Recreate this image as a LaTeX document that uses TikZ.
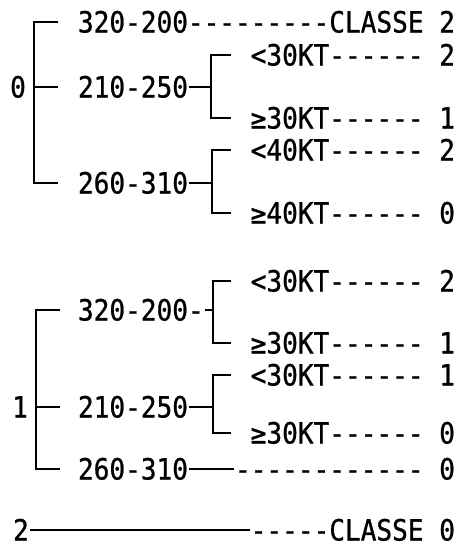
\documentclass[tikz,border=0pt]{standalone}
\usepackage{graphicx}
\usepackage{fontspec}
\newfontfamily\twfont[Ligatures=TeXOff,FakeBold=0.9]{DejaVu Sans Mono}
\newcommand\stx[1]{\scalebox{1}[1.12]{#1}}
\begin{document}
\begin{tikzpicture}[x=1pt,y=-1pt,line width=2pt,
  lbl/.style={inner sep=0pt,text height=21pt,text depth=0pt,
    font=\twfont\fontsize{26.1}{30}\selectfont},
  lft/.style={lbl,anchor=west},
  rgt/.style={lbl,anchor=east}]
\fill[white] (0,0) rectangle (466,549);
\useasboundingbox (0,0) rectangle (466,549);
% ---------- block 0 ----------
\node[lbl] (k0) at (18,87) {\stx{0}};
\node[lft] (a1) at (77,22) {\stx{320-200}};
\node[lft] (a2) at (77,87) {\stx{210-250}};
\node[lft] (a3) at (77,183) {\stx{260-310}};
\node[rgt] (l1) at (456,22) {\stx{---------CLASSE 2}};
\node[rgt] (l2) at (456,55) {\stx{<30KT------ 2}};
\node[rgt] (l3) at (456,118) {\stx{≥30KT------ 1}};
\node[rgt] (l4) at (456,150) {\stx{<40KT------ 2}};
\node[rgt] (l5) at (456,213) {\stx{≥40KT------ 0}};
\coordinate (p0t) at (34,22);
\coordinate (p0m) at (34,87);
\coordinate (p0b) at (34,183);
\draw ([xshift=-19pt]a1.west) -- (p0t) -- (p0b) -- ([xshift=-19pt]a3.west);
\draw (p0m) -- ([xshift=-19pt]a2.west);
\coordinate (q1t) at (211,55);
\coordinate (q1b) at (211,118);
\draw ([xshift=-19pt]l2.west) -- (q1t) -- (q1b) -- ([xshift=-19pt]l3.west);
\draw (a2.east) -- (a2.east -| q1t);
\coordinate (q2t) at (212,150);
\coordinate (q2b) at (212,213);
\draw ([xshift=-19pt]l4.west) -- (q2t) -- (q2b) -- ([xshift=-19pt]l5.west);
\draw (a3.east) -- (a3.east -| q2t);
% ---------- block 1 ----------
\node[lbl] (k1) at (20,407) {\stx{1}};
\node[lft] (c1) at (77,310) {\stx{320-200-}};
\node[lft] (c2) at (77,407) {\stx{210-250}};
\node[lft] (c3) at (77,469) {\stx{260-310}};
\node[rgt] (m1) at (456,281) {\stx{<30KT------ 2}};
\node[rgt] (m2) at (456,343) {\stx{≥30KT------ 1}};
\node[rgt] (m3) at (456,375) {\stx{<30KT------ 1}};
\node[rgt] (m4) at (456,433) {\stx{≥30KT------ 0}};
\node[rgt] (m5) at (456,469) {\stx{------------ 0}};
\coordinate (p1t) at (36,310);
\coordinate (p1m) at (36,407);
\coordinate (p1b) at (36,469);
\draw ([xshift=-17pt]c1.west) -- (p1t) -- (p1b) -- ([xshift=-17pt]c3.west);
\draw (p1m) -- ([xshift=-17pt]c2.west);
\coordinate (q3t) at (213,281);
\coordinate (q3b) at (213,343);
\draw ([xshift=-19pt]m1.west) -- (q3t) -- (q3b) -- ([xshift=-19pt]m2.west);
\draw (c1.east) -- (c1.east -| q3t);
\coordinate (q4t) at (213,375);
\coordinate (q4b) at (213,433);
\draw ([xshift=-19pt]m3.west) -- (q4t) -- (q4b) -- ([xshift=-19pt]m4.west);
\draw (c2.east) -- (c2.east -| q4t);
\draw (c3.east) -- (m5.west);
% ---------- class 2 ----------
\node[lbl] (k2) at (21,530) {\stx{2}};
\node[rgt] (m6) at (456,530) {\stx{-----CLASSE 0}};
\draw (k2.east) -- (m6.west);
\end{tikzpicture}
\end{document}
